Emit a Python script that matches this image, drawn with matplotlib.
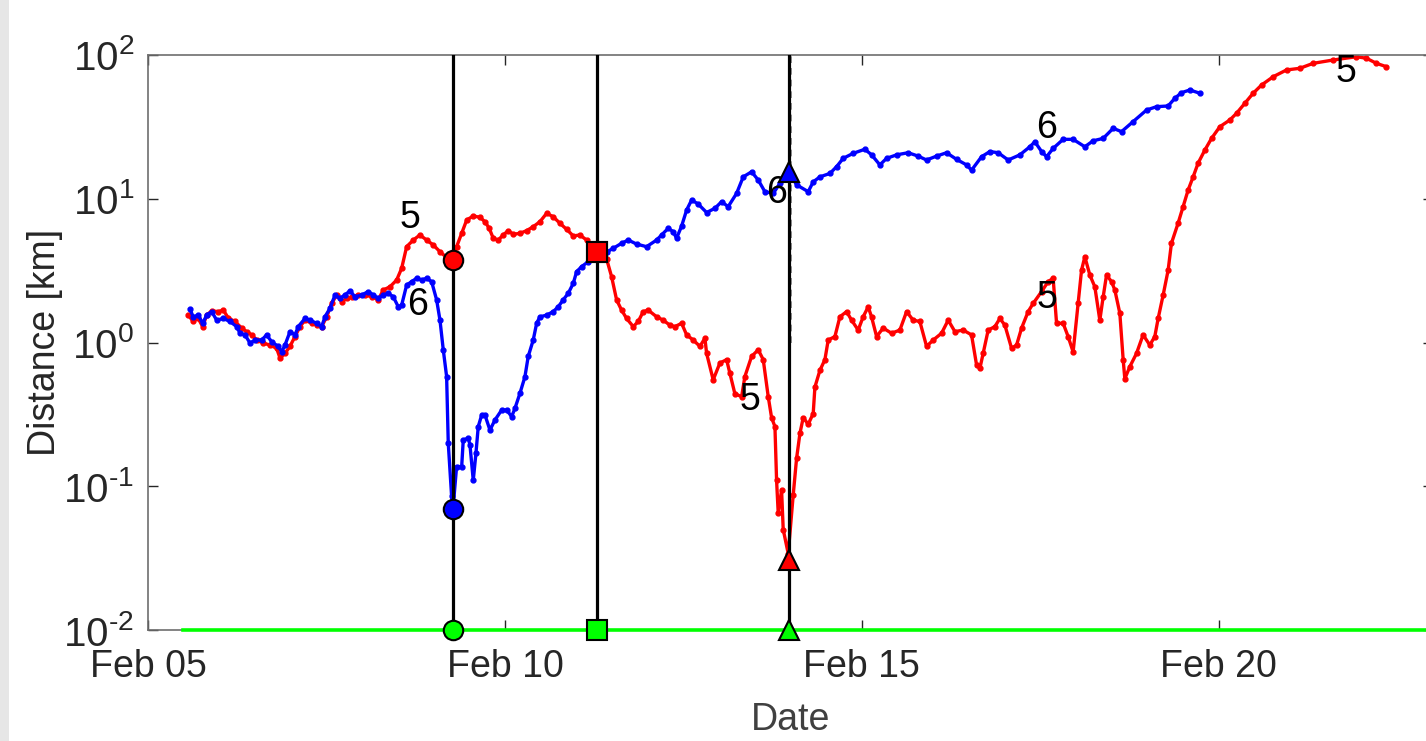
"""
Distance of objects 5 and 6 over time (log scale), with event markers.
"""

from datetime import datetime

import numpy as np
import matplotlib
matplotlib.use("Agg")
from matplotlib import pyplot as plt
import matplotlib.dates as mdates
from matplotlib.patches import Rectangle

plt.rcParams['font.family'] = ['Liberation Sans', 'DejaVu Sans']
plt.rcParams['mathtext.fontset'] = 'custom'
plt.rcParams['mathtext.rm'] = 'Liberation Sans'

# ---- data (day of February, distance in km) ----
day5 = [5.564, 5.634, 5.700, 5.766, 5.822, 5.892, 5.985, 6.055, 6.125, 6.218,
        6.312, 6.382, 6.452, 6.522, 6.615, 6.709, 6.802, 6.849, 6.919, 6.989,
        7.059, 7.129, 7.199, 7.293, 7.363, 7.433, 7.503, 7.573, 7.643, 7.713,
        7.783, 7.853, 7.945, 8.039, 8.133, 8.225, 8.296, 8.389, 8.483, 8.553,
        8.623, 8.716, 8.809, 8.903, 8.996, 9.090, 9.174, 9.272, 9.323, 9.394,
        9.464, 9.556, 9.650, 9.720, 9.780, 9.836, 9.906, 9.976, 10.046, 10.116,
        10.210, 10.304, 10.396, 10.490, 10.584, 10.676, 10.770, 10.864, 10.957, 11.050,
        11.144, 11.218, 11.289, 11.424, 11.494, 11.564, 11.634, 11.704, 11.797, 11.867,
        11.937, 12.007, 12.124, 12.217, 12.311, 12.381, 12.475, 12.545, 12.637, 12.731,
        12.801, 12.825, 12.917, 13.011, 13.105, 13.151, 13.221, 13.315, 13.361, 13.455,
        13.548, 13.618, 13.688, 13.735, 13.782, 13.805, 13.828, 13.875, 13.898, 13.968,
        14.038, 14.085, 14.132, 14.178, 14.248, 14.318, 14.342, 14.412, 14.482, 14.528,
        14.622, 14.692, 14.786, 14.856, 14.948, 15.018, 15.088, 15.135, 15.206, 15.298,
        15.416, 15.532, 15.626, 15.718, 15.812, 15.906, 15.999, 16.116, 16.209, 16.303,
        16.419, 16.536, 16.606, 16.653, 16.699, 16.769, 16.863, 16.933, 17.003, 17.097,
        17.167, 17.237, 17.329, 17.399, 17.517, 17.609, 17.679, 17.727, 17.819, 17.889,
        17.959, 18.029, 18.077, 18.123, 18.193, 18.263, 18.333, 18.380, 18.427, 18.497,
        18.543, 18.613, 18.660, 18.683, 18.754, 18.847, 18.939, 19.033, 19.103, 19.150,
        19.220, 19.290, 19.336, 19.429, 19.499, 19.570, 19.640, 19.710, 19.804, 19.898,
        20.014, 20.154, 20.248, 20.364, 20.481, 20.598, 20.761, 20.948, 21.134, 21.321,
        21.601, 21.928, 22.068, 22.208, 22.348]
dist5 = [1.55, 1.40, 1.48, 1.29, 1.55, 1.66, 1.64, 1.68, 1.48, 1.40,
         1.26, 1.19, 1.13, 1.04, 0.99, 0.96, 0.91, 0.78, 0.84, 0.94,
         1.10, 1.29, 1.43, 1.36, 1.32, 1.29, 1.51, 1.87, 2.14, 1.92,
         2.03, 2.08, 2.14, 2.14, 2.08, 1.98, 2.32, 2.44, 2.72, 3.28,
         4.64, 5.16, 5.60, 5.16, 4.77, 4.28, 3.94, 3.75, 4.64, 5.75,
         7.11, 7.59, 7.43, 6.92, 6.23, 5.31, 5.16, 5.60, 6.00, 5.66,
         5.75, 6.00, 6.39, 6.92, 7.92, 7.50, 6.75, 6.13, 5.51, 5.60,
         5.16, 4.62, 4.26, 3.81, 2.87, 1.98, 1.68, 1.47, 1.29, 1.40,
         1.64, 1.68, 1.51, 1.43, 1.32, 1.29, 1.36, 1.13, 1.04, 0.94,
         1.07, 0.84, 0.55, 0.72, 0.76, 0.61, 0.44, 0.42, 0.58, 0.80,
         0.89, 0.76, 0.42, 0.30, 0.26, 0.110, 0.065, 0.094, 0.050, 0.034,
         0.087, 0.156, 0.233, 0.30, 0.27, 0.32, 0.49, 0.64, 0.76, 1.04,
         1.10, 1.51, 1.64, 1.43, 1.22, 1.51, 1.77, 1.51, 1.10, 1.26,
         1.16, 1.22, 1.64, 1.43, 1.40, 0.94, 1.04, 1.16, 1.43, 1.19,
         1.22, 1.13, 0.70, 0.66, 0.84, 1.22, 1.29, 1.47, 1.32, 0.91,
         0.96, 1.26, 1.64, 1.87, 2.26, 2.65, 2.80, 1.36, 1.36, 1.10,
         0.86, 1.87, 3.19, 3.95, 2.95, 2.44, 1.43, 2.08, 2.95, 2.65,
         2.32, 1.60, 0.76, 0.56, 0.68, 0.84, 1.13, 0.96, 1.10, 1.47,
         2.14, 3.19, 4.90, 6.75, 8.81, 11.5, 14.2, 17.7, 21.8, 26.3,
         31.7, 35.3, 39.3, 46.1, 54.2, 61.8, 70.6, 78.7, 80.8, 87.5,
         92.3, 97.3, 94.9, 87.5, 82.9]

day6 = [5.588, 5.634, 5.704, 5.766, 5.822, 5.892, 5.962, 6.055, 6.148, 6.242,
        6.289, 6.359, 6.429, 6.499, 6.592, 6.662, 6.733, 6.825, 6.873, 6.919,
        6.989, 7.059, 7.105, 7.199, 7.269, 7.363, 7.433, 7.479, 7.549, 7.619,
        7.689, 7.759, 7.829, 7.899, 7.993, 8.085, 8.155, 8.225, 8.296, 8.366,
        8.436, 8.506, 8.553, 8.623, 8.693, 8.763, 8.833, 8.903, 8.973, 9.043,
        9.090, 9.136, 9.183, 9.206, 9.253, 9.272, 9.323, 9.394, 9.416, 9.486,
        9.510, 9.556, 9.594, 9.626, 9.674, 9.720, 9.790, 9.860, 9.954, 10.024,
        10.094, 10.140, 10.210, 10.280, 10.326, 10.396, 10.444, 10.490, 10.584, 10.676,
        10.746, 10.816, 10.887, 10.957, 11.004, 11.074, 11.167, 11.261, 11.424, 11.517,
        11.634, 11.727, 11.844, 11.984, 12.124, 12.194, 12.287, 12.357, 12.404, 12.475,
        12.545, 12.615, 12.707, 12.825, 12.941, 13.035, 13.127, 13.245, 13.338, 13.455,
        13.548, 13.641, 13.758, 13.852, 13.945, 13.978, 14.085, 14.248, 14.318, 14.412,
        14.552, 14.645, 14.738, 14.878, 15.042, 15.136, 15.252, 15.346, 15.486, 15.648,
        15.788, 15.906, 16.046, 16.186, 16.326, 16.466, 16.536, 16.676, 16.793, 16.909,
        17.049, 17.213, 17.353, 17.423, 17.517, 17.587, 17.679, 17.819, 17.959, 18.123,
        18.239, 18.380, 18.520, 18.637, 18.800, 18.987, 19.127, 19.290, 19.384, 19.477,
        19.594, 19.734]
dist6 = [1.70, 1.51, 1.55, 1.36, 1.55, 1.64, 1.43, 1.47, 1.40, 1.29,
         1.16, 1.13, 0.99, 1.04, 1.04, 1.13, 1.01, 0.94, 0.86, 0.96,
         1.19, 1.13, 1.29, 1.47, 1.43, 1.36, 1.29, 1.51, 1.73, 2.14,
         2.03, 2.14, 2.29, 2.08, 2.14, 2.26, 2.14, 2.03, 2.14, 2.20,
         2.08, 1.77, 1.82, 2.51, 2.65, 2.80, 2.72, 2.80, 2.65, 1.98,
         1.43, 0.89, 0.58, 0.199, 0.085, 0.0695, 0.137, 0.137, 0.21, 0.216,
         0.194, 0.110, 0.170, 0.26, 0.313, 0.313, 0.246, 0.289, 0.339, 0.339,
         0.305, 0.348, 0.443, 0.578, 0.80, 1.04, 1.36, 1.51, 1.55, 1.64,
         1.77, 1.98, 2.20, 2.58, 3.11, 3.37, 3.65, 4.18, 4.26, 4.52,
         4.90, 5.16, 4.84, 4.64, 5.16, 5.60, 6.23, 5.90, 5.31, 6.46,
         8.35, 9.80, 9.19, 8.02, 8.58, 9.54, 8.81, 10.9, 14.2, 15.4,
         13.5, 11.2, 10.9, 12.8, 14.2, 15.4, 12.5, 11.2, 13.1, 14.2,
         15.0, 16.7, 19.1, 20.7, 22.1, 20.2, 17.2, 19.1, 20.2, 20.9,
         19.8, 18.6, 19.8, 20.9, 18.8, 17.2, 15.8, 19.6, 21.3, 20.9,
         18.6, 20.2, 23.0, 24.9, 21.3, 19.6, 22.4, 25.9, 25.9, 23.0,
         25.3, 26.3, 30.9, 29.3, 34.4, 41.4, 43.7, 44.2, 50.0, 54.7,
         57.1, 54.2]

# event times (day of February) and distances at the events
event_days = [9.272, 11.289, 13.978]
event_d5 = [3.75, 4.26, 0.0307]
event_d6 = [0.0695, 4.26, 15.4]
event_markers = ['o', 's', '^']
threshold = 0.01
threshold_days = [5.49, 23.0]
dashed_day = 14.01

# "5"/"6" labels (day, km, text)
label_days = [8.67, 8.78, 13.80, 13.43, 17.59, 17.59, 21.78]
label_dist = [7.3, 1.82, 11.0, 0.40, 31.0, 2.04, 76.0]
label_text = ['5', '6', '6', '5', '6', '5', '5']

base = mdates.date2num(datetime(2021, 2, 1))


def to_num(days):
    return base + np.asarray(days) - 1.0


def log_label(v, pos):
    n = int(round(np.log10(v)))
    # plain hyphen for negative exponents, like the original
    return r'$\mathdefault{10^{%s}}$' % (str(n).replace('-', '\u2010'))


fig = plt.figure(figsize=(14.26, 7.41), dpi=100)
fig.patches.append(Rectangle((0, 0), 9 / 1426, 1, transform=fig.transFigure,
                             color='#e6e6e6', lw=0, zorder=-1))
ax = fig.add_axes([148 / 1426, 111 / 741, 1285 / 1426, 575 / 741])

ax.plot(to_num(day5), dist5, '-', color='red', lw=2.4, marker='.', ms=7)
ax.plot(to_num(day6), dist6, '-', color='blue', lw=2.4, marker='.', ms=7)

ax.plot(to_num(threshold_days), [threshold, threshold], color='#00ff00', lw=2.6,
        zorder=3, clip_on=False)

ax.plot(to_num([dashed_day, dashed_day]), [1.0, 100.0], color='gray', lw=1.2,
        ls=(0, (4, 3)))
for d in event_days:
    ax.axvline(to_num(d), color='black', lw=2.3, zorder=3)

for d, v5, v6, m in zip(event_days, event_d5, event_d6, event_markers):
    ax.plot(to_num(d), v6, marker=m, ms=14, mfc='blue', mec='black', mew=1.5,
            ls='none', zorder=4)
    ax.plot(to_num(d), v5, marker=m, ms=14, mfc='red', mec='black', mew=1.5,
            ls='none', zorder=4)
    ax.plot(to_num(d), threshold, marker=m, ms=14, mfc='#00ff00', mec='black',
            mew=1.5, ls='none', clip_on=False, zorder=4)

for d, v, t in zip(label_days, label_dist, label_text):
    ax.text(to_num(d), v, t, fontsize=27, ha='center', va='center', color='black')

ax.set_yscale('log')
ax.set_ylim(1e-2, 1e2)
ax.set_xlim(to_num(5.0), to_num(23.0))
ax.set_yticks([1e-2, 1e-1, 1e0, 1e1, 1e2])
ax.yaxis.set_minor_locator(matplotlib.ticker.NullLocator())
ax.yaxis.set_major_formatter(matplotlib.ticker.FuncFormatter(log_label))

ax.set_xticks(to_num([5, 10, 15, 20]))
ax.xaxis.set_major_formatter(mdates.DateFormatter('%b %d'))

for s in ax.spines.values():
    s.set_color('#6e6e6e')
    s.set_linewidth(1.2)
ax.tick_params(direction='in', length=7, width=1, colors='#262626',
               labelsize=27, top=True, right=True)
ax.tick_params(axis='x', pad=14)
ax.tick_params(axis='y', pad=10, labelsize=29)

ax.set_xlabel('Date', fontsize=27, color='#404040', labelpad=12)
ax.set_ylabel('Distance [km]', fontsize=27, color='#262626', labelpad=0)

plt.savefig('out.png', dpi=100)
